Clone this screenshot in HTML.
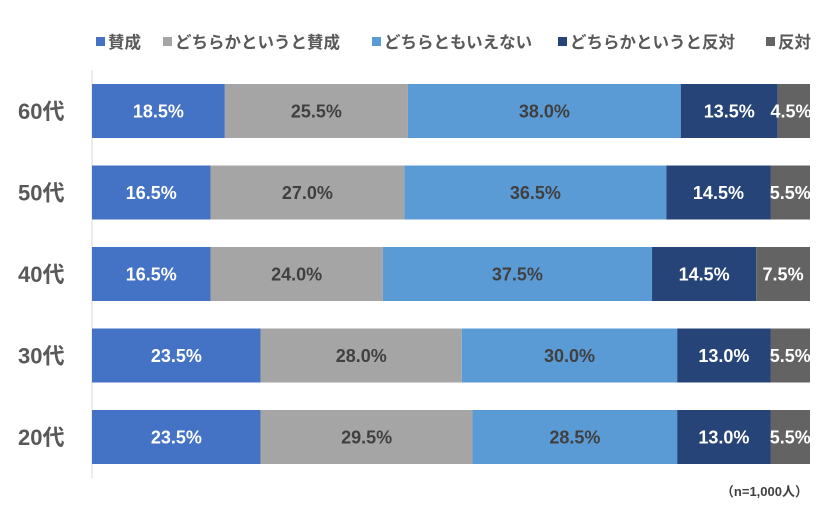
<!DOCTYPE html>
<html><head><meta charset="utf-8"><style>
body{margin:0;background:#fff;width:840px;height:508px;overflow:hidden;font-family:"Liberation Sans","Noto Sans CJK JP",sans-serif}
</style></head><body>
<svg id="chart" width="840" height="508" xmlns="http://www.w3.org/2000/svg">
<g id="legend"></g>
<line x1="92" y1="70" x2="92" y2="478" stroke="#d9d9d9" stroke-width="1"/>
<g id="bars"></g>
<text x="808" y="496" text-anchor="end" font-size="13" font-weight="bold" fill="#404040">（n=1,000人）</text>
</svg>
<script>
const categories=["60代","50代","40代","30代","20代"];
const seriesNames=["賛成","どちらかというと賛成","どちらともいえない","どちらかというと反対","反対"];
const s1=[18.5,16.5,16.5,23.5,23.5];
const s2=[25.5,27.0,24.0,28.0,29.5];
const s3=[38.0,36.5,37.5,30.0,28.5];
const s4=[13.5,14.5,14.5,13.0,13.0];
const s5=[4.5,5.5,7.5,5.5,5.5];
const series=[s1,s2,s3,s4,s5];
const colors=["#4472C4","#A5A5A5","#5B9BD5","#264478","#636363"];
const textColors=["#fff","#404040","#404040","#fff","#fff"];
const NS="http://www.w3.org/2000/svg";
const x0=92,x1=810;
function xs(v){return x0+(x1-x0)*v/100;}
function yc(i){return 111+i*81.5;}
const barH=54;
const bars=document.getElementById('bars');
categories.forEach((c,i)=>{
  const t=document.createElementNS(NS,'text');
  
  
  t.setAttribute('x',18);t.setAttribute('y',yc(i)+8);
  t.setAttribute('font-size','22');t.setAttribute('font-weight','bold');t.setAttribute('fill','#595959');
  t.textContent=c;bars.appendChild(t);
  let acc=0;
  series.forEach((s,k)=>{
    const v=s[i];
    const r=document.createElementNS(NS,'rect');
    
    
    r.setAttribute('x',xs(acc));r.setAttribute('y',yc(i)-barH/2);
    r.setAttribute('width',xs(acc+v)-xs(acc));r.setAttribute('height',barH);
    r.setAttribute('fill',colors[k]);bars.appendChild(r);
    const l=document.createElementNS(NS,'text');
    
    
    let cx=(xs(acc)+xs(acc+v))/2;
    if(k===4) cx=Math.min(cx,x1-19);
    l.setAttribute('x',cx);l.setAttribute('y',yc(i)+6.5);
    l.setAttribute('text-anchor','middle');l.setAttribute('font-size','18');l.setAttribute('font-weight','bold');
    l.setAttribute('fill',textColors[k]);
    l.textContent=v.toFixed(1)+'%';bars.appendChild(l);
    acc+=v;
  });
});
const legend=document.getElementById('legend');
const legX=[96,163,372,558,766];
seriesNames.forEach((n,k)=>{
  const r=document.createElementNS(NS,'rect');
  
  
  r.setAttribute('x',legX[k]);r.setAttribute('y',37);r.setAttribute('width',9);r.setAttribute('height',9);
  r.setAttribute('fill',colors[k]);legend.appendChild(r);
  const t=document.createElementNS(NS,'text');
  
  
  t.setAttribute('x',legX[k]+12);t.setAttribute('y',48);
  t.setAttribute('font-size','16.5');t.setAttribute('font-weight','bold');t.setAttribute('fill','#595959');
  t.textContent=n;legend.appendChild(t);
});
</script>
</body></html>
